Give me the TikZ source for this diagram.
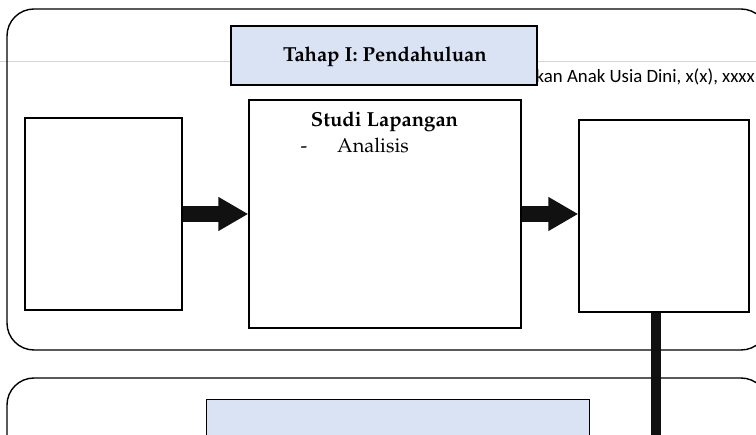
\documentclass[tikz,border=0pt]{standalone}
\usepackage[T1]{fontenc}
\usepackage{fontspec}
\newfontfamily\carlito{Carlito}
\newcommand\palfont{\fontencoding{T1}\fontfamily{ppl}\selectfont}
\usetikzlibrary{arrows.meta,positioning}
\definecolor{headblue}{HTML}{DAE3F3}
\definecolor{inkblack}{HTML}{111111}
\definecolor{rulegray}{HTML}{D4D4D4}

\begin{document}
\begin{tikzpicture}[
  x=1pt, y=-1pt,
  frame/.style={
    draw,
    line width=1.4pt,
    rounded corners=27pt
  },
  head/.style={
    draw,
    fill=headblue,
    line width=1.4pt,
    inner sep=0pt,
    font=\palfont\bfseries\fontsize{20.5}{24}\selectfont
  },
  stage/.style={
    draw,
    fill=white,
    line width=1.4pt,
    inner sep=0pt
  },
  block/.style={
    -{Triangle[length=30pt,width=32pt]},
    line width=16pt,
    draw=inkblack
  },
  bar/.style={
    line width=10pt,
    draw=inkblack
  },
  title/.style={
    inner sep=0pt,
    font=\palfont\bfseries\fontsize{20.3}{24}\selectfont
  },
  item/.style={
    inner sep=0pt,
    font=\palfont\fontsize{20}{24}\selectfont
  }
]

\path[use as bounding box] (0,0) rectangle (756,435);
\clip (0,0) rectangle (756,435);

% page header behind the figure
\draw[rulegray, line width=1pt] (0,62) -- (756,62);
\node[inner sep=0pt, anchor=base east, font=\carlito\fontsize{18.8}{22}\selectfont]
  (runhead) at (755,83) {kan Anak Usia Dini, x(x), xxxx};

% Tahap I
\draw[frame] (7,9) rectangle (768,350);
\node[head, minimum width=306, minimum height=59] (tahap1) at (384,55.5) {};
\node[title, anchor=base] (tahap1text) at (385,62) {Tahap I: Pendahuluan};

\node[stage, minimum width=157, minimum height=192] (lbox) at (103.5,214) {};
\node[stage, minimum width=272, minimum height=228] (mbox) at (385,214) {};
\node[stage, minimum width=170, minimum height=192] (rbox) at (664,216) {};

\node[title, anchor=base] (studi) at (384.5,127) {Studi Lapangan};
\node[item, anchor=base] (dash) at (304,153) {-};
\node[item, anchor=base west] (analisis) at (337,153) {Analisis};

\draw[block] (lbox.east) -- (mbox.west);
\draw[block] (mbox.east) -- (mbox.east -| rbox.west);

% Tahap II
\draw[frame] (7,378) rectangle (768,480);
\node[head, anchor=north west, minimum width=383, minimum height=60] (tahap2)
  at (206,399) {};

\coordinate (drop) at (656,440);
\draw[bar] (rbox.south -| drop) -- (drop);

\end{tikzpicture}
\end{document}
